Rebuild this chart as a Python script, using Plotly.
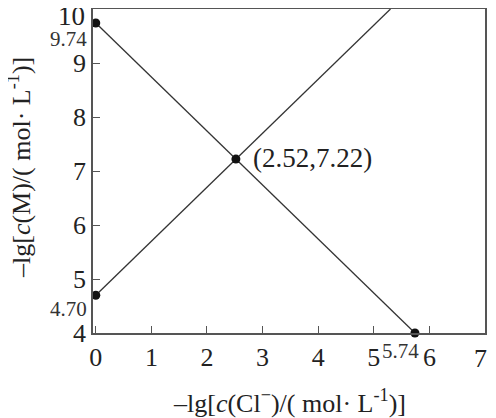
import plotly.graph_objects as go

# data
line1_x = [0, 2.52, 5.74]
line1_y = [9.74, 7.22, 4.0]
line2_x = [0, 2.52, 5.30]
line2_y = [4.70, 7.22, 10.0]
dots_x = [0, 0, 2.52, 5.74]
dots_y = [9.74, 4.70, 7.22, 4.0]
xticks = [0, 1, 2, 3, 4, 5, 6, 7]
xticktext = ["0", "1", "2", "3", "4", "5", "6", ""]
yticks = [4, 5, 6, 7, 8, 9, 10]
yticktext = ["4", "5", "6", "7", "8", "9", ""]

FONT = "Liberation Serif"
LINE = "#333333"
AX = "#555555"
TXT = "#222222"

fig = go.Figure()
fig.add_trace(go.Scatter(x=line1_x, y=line1_y, mode="lines",
                         line=dict(color=LINE, width=1.3), cliponaxis=False,
                         hoverinfo="skip"))
fig.add_trace(go.Scatter(x=line2_x, y=line2_y, mode="lines",
                         line=dict(color=LINE, width=1.3), cliponaxis=False,
                         hoverinfo="skip"))
fig.add_trace(go.Scatter(x=dots_x, y=dots_y, mode="markers",
                         marker=dict(color="#111111", size=9), cliponaxis=False))

# point annotation
fig.add_annotation(x=2.52, y=7.22, xref="x", yref="y",
                   text="(%.2f,%.2f)" % (2.52, 7.22), showarrow=False,
                   xanchor="left", yanchor="middle", xshift=15, yshift=1,
                   font=dict(family=FONT, size=27, color=TXT))
# small value labels
fig.add_annotation(x=0, y=9.74, xref="paper", yref="y", text="9.74",
                   showarrow=False, xanchor="right", yanchor="middle",
                   xshift=-4, yshift=-16,
                   font=dict(family=FONT, size=21, color="#333"))
fig.add_annotation(x=0, y=4.70, xref="paper", yref="y", text="4.70",
                   showarrow=False, xanchor="right", yanchor="middle",
                   xshift=-4, yshift=-14,
                   font=dict(family=FONT, size=21, color="#333"))
fig.add_annotation(x=5.74, y=4.0, xref="x", yref="y", text="5.74",
                   showarrow=False, xanchor="center", yanchor="middle",
                   xshift=-14, yshift=-18,
                   font=dict(family=FONT, size=21, color="#333"))
# end tick labels, nudged inward as in the reference
fig.add_annotation(x=0, y=10, xref="paper", yref="y", text="10",
                   showarrow=False, xanchor="right", yanchor="middle",
                   xshift=-6, yshift=-7,
                   font=dict(family=FONT, size=27, color=TXT))
fig.add_annotation(x=7, y=0, xref="x", yref="paper", text="7",
                   showarrow=False, xanchor="center", yanchor="middle",
                   xshift=-5, yshift=-25,
                   font=dict(family=FONT, size=26, color=TXT))
# axis titles
fig.add_annotation(x=0.5, y=0, xref="paper", yref="paper",
                   text="–lg[<i>c</i>(Cl<sup>−</sup>)/( mol· L<sup>-1</sup>)]",
                   showarrow=False, xanchor="center", yanchor="middle",
                   yshift=-68, font=dict(family=FONT, size=26, color=TXT))
fig.add_annotation(x=0, y=0.5, xref="paper", yref="paper",
                   text="–lg[<i>c</i>(M)/( mol· L<sup>-1</sup>)]",
                   showarrow=False, xanchor="center", yanchor="middle",
                   textangle=-90, xshift=-74, yshift=3,
                   font=dict(family=FONT, size=26, color=TXT))

# the page body adds an 8px offset, so the figure is 8px smaller
fig.update_layout(
    width=488, height=410,
    margin=dict(l=85, r=11, t=1, b=85, autoexpand=False),
    paper_bgcolor="white", plot_bgcolor="white",
    showlegend=False,
    font=dict(family=FONT, color=TXT),
)
fig.update_xaxes(range=[-0.05, 7], tickvals=xticks, ticktext=xticktext,
                 ticks="inside", ticklen=7,
                 tickcolor=AX, showgrid=False, zeroline=False, automargin=False,
                 showline=True, linecolor=AX, linewidth=1.5, mirror=True,
                 ticklabeloverflow="allow",
                 tickfont=dict(family=FONT, size=26, color=TXT))
fig.update_yaxes(range=[4, 10], tickvals=yticks, ticktext=yticktext,
                 ticks="inside", ticklen=7,
                 tickcolor=AX, showgrid=False, zeroline=False, automargin=False,
                 showline=True, linecolor=AX, linewidth=1.5, mirror=True,
                 ticklabeloverflow="allow",
                 tickfont=dict(family=FONT, size=26, color=TXT))

fig.write_html("out.html")
